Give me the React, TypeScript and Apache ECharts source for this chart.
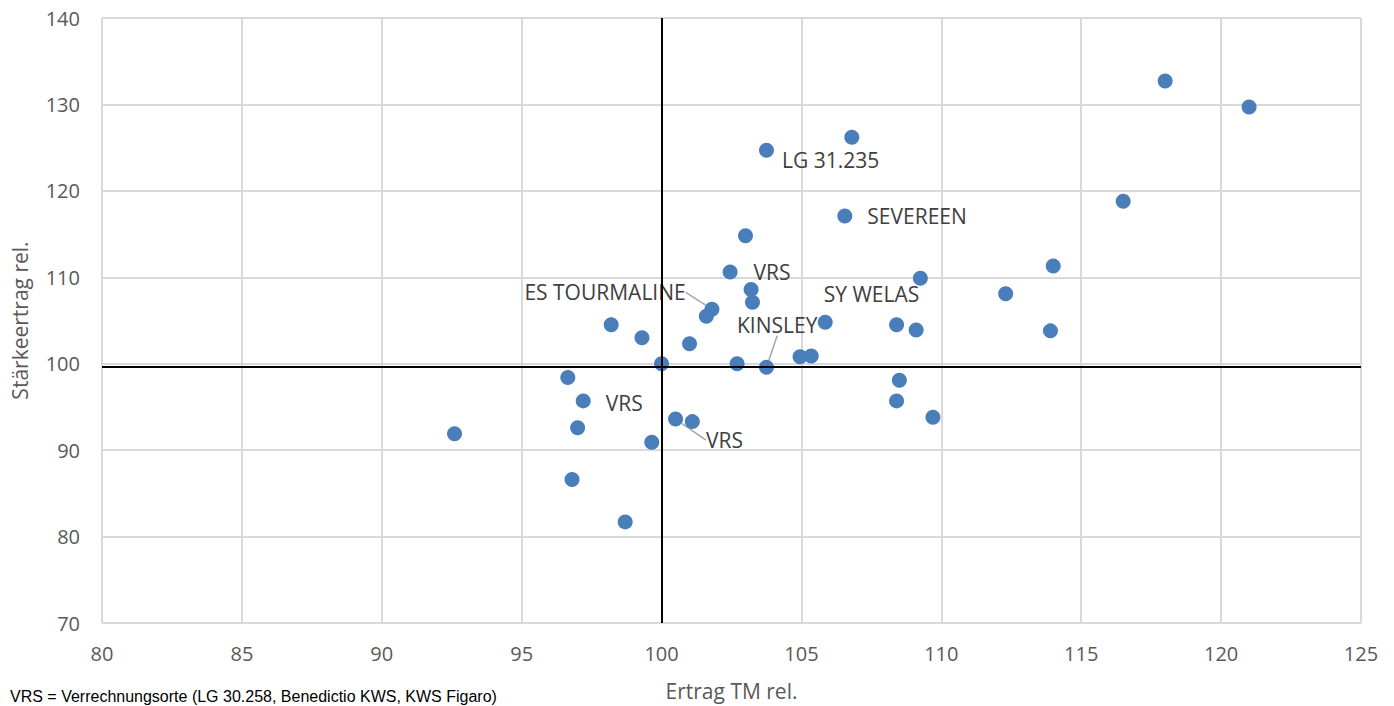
import React, { useEffect, useRef } from "react";
import * as echarts from "echarts";

// Ertrag TM rel. (x) and Stärkeertrag rel. (y) per Sorte
const ertrag = [92.6, 96.65, 97.2, 97.0, 96.8, 98.7, 98.2, 99.3, 100.0, 99.65, 100.5, 101.1, 101.0, 101.6, 101.8, 102.45, 103.0, 103.2, 103.25, 102.7, 103.75, 103.75, 106.8, 106.55, 105.85, 104.95, 105.35, 108.4, 109.1, 109.25, 108.5, 108.4, 109.7, 112.3, 114.0, 113.9, 116.5, 118.0, 121.0];
const staerke = [91.9, 98.4, 95.7, 92.6, 86.6, 81.7, 104.5, 103.0, 100.0, 90.9, 93.6, 93.3, 102.3, 105.5, 106.3, 110.6, 114.8, 108.6, 107.1, 100.0, 99.6, 124.7, 126.2, 117.1, 104.8, 100.8, 100.9, 104.5, 103.9, 109.9, 98.1, 95.7, 93.8, 108.1, 111.3, 103.8, 118.8, 132.7, 129.7];

// labelled points: index into the arrays above, and label text
const labelIndex = [2, 10, 14, 17, 20, 21, 23, 24];
const labelText = ["VRS", "VRS", "ES TOURMALINE", "VRS", "KINSLEY", "LG 31.235", "SEVEREEN", "SY WELAS"];
const labelDx = [10, 18, -200, -10, -42, 3, 10, -14];
const labelDy = [2, 21, -17, -17, -42, 10, 0, -28];
const labelLeader = [false, true, true, false, true, false, false, false];

const xTicks = { min: 80, max: 125, interval: 5 };
const yTicks = { min: 70, max: 140, interval: 10 };
const refX = 100;
const refY = 99.7;

const xTitle = "Ertrag TM rel.";
const yTitle = "Stärkeertrag rel.";
const footnote = "VRS = Verrechnungsorte (LG 30.258, Benedictio KWS, KWS Figaro)";

export default function App() {
  const ref = useRef<HTMLDivElement>(null);
  useEffect(() => {
    if (!ref.current) return;
    const chart = echarts.init(ref.current, undefined, { renderer: "svg" });
    const font = "'Open Sans', 'Noto Sans', sans-serif";
    const data = ertrag.map((x, i) => {
      const k = labelIndex.indexOf(i);
      const item: any = { value: [x, staerke[i]] };
      if (k >= 0) {
        item.name = labelText[k];
        item.label = { show: true, formatter: labelText[k] };
        item.labelLine = { show: labelLeader[k] };
      }
      return item;
    });
    const option: any = {
      animation: false,
      backgroundColor: "#ffffff",
      grid: {
        left: 102,
        right: 33,
        top: 18,
        bottom: 83,
        containLabel: false,
        outerBoundsMode: "none",
      },
      xAxis: {
        type: "value",
        min: xTicks.min,
        max: xTicks.max,
        interval: xTicks.interval,
        name: xTitle,
        nameLocation: "middle",
        nameGap: 57,
        nameTextStyle: { fontFamily: font, fontSize: 21, color: "#595959" },
        axisLine: { show: false },
        axisTick: { show: false },
        axisLabel: { margin: 20, fontFamily: font, fontSize: 20, color: "#595959" },
        splitLine: { show: true, lineStyle: { color: "#d9d9d9", width: 2 } },
      },
      yAxis: {
        type: "value",
        min: yTicks.min,
        max: yTicks.max,
        interval: yTicks.interval,
        name: yTitle,
        nameLocation: "middle",
        nameGap: 72,
        nameRotate: 90,
        nameTextStyle: { fontFamily: font, fontSize: 21, color: "#595959" },
        axisLine: { show: false },
        axisTick: { show: false },
        axisLabel: { margin: 22, fontFamily: font, fontSize: 20, color: "#595959" },
        splitLine: { show: true, lineStyle: { color: "#d9d9d9", width: 2 } },
      },
      series: [
        {
          type: "scatter",
          data,
          symbolSize: 15,
          itemStyle: { color: "#4a7ebb", opacity: 1 },
          label: {
            show: false,
            position: "right",
            distance: 5,
            fontFamily: font,
            fontSize: 21,
            color: "#404040",
          },
          labelLine: { show: false, lineStyle: { color: "#a6a6a6", width: 1.5 } },
          labelLayout: (params: any) => {
            const k = labelIndex.indexOf(params.dataIndex);
            if (k < 0) return {};
            return { dx: labelDx[k], dy: labelDy[k] };
          },
          markLine: {
            silent: true,
            symbol: "none",
            label: { show: false },
            lineStyle: { color: "#000000", width: 2, type: "solid" },
            data: [{ xAxis: refX }, { yAxis: refY }],
          },
          z: 3,
        },
      ],
      graphic: [
        {
          type: "text",
          left: 10,
          top: 688,
          style: {
            text: footnote,
            fontFamily: "'Liberation Sans', Arial, sans-serif",
            fontSize: 16,
            fill: "#000000",
          },
        },
      ],
    };
    chart.setOption(option);
    return () => chart.dispose();
  }, []);
  return (
    <div
      ref={ref}
      style={{ position: "absolute", left: 0, top: 0, width: 1394, height: 706 }}
    />
  );
}
